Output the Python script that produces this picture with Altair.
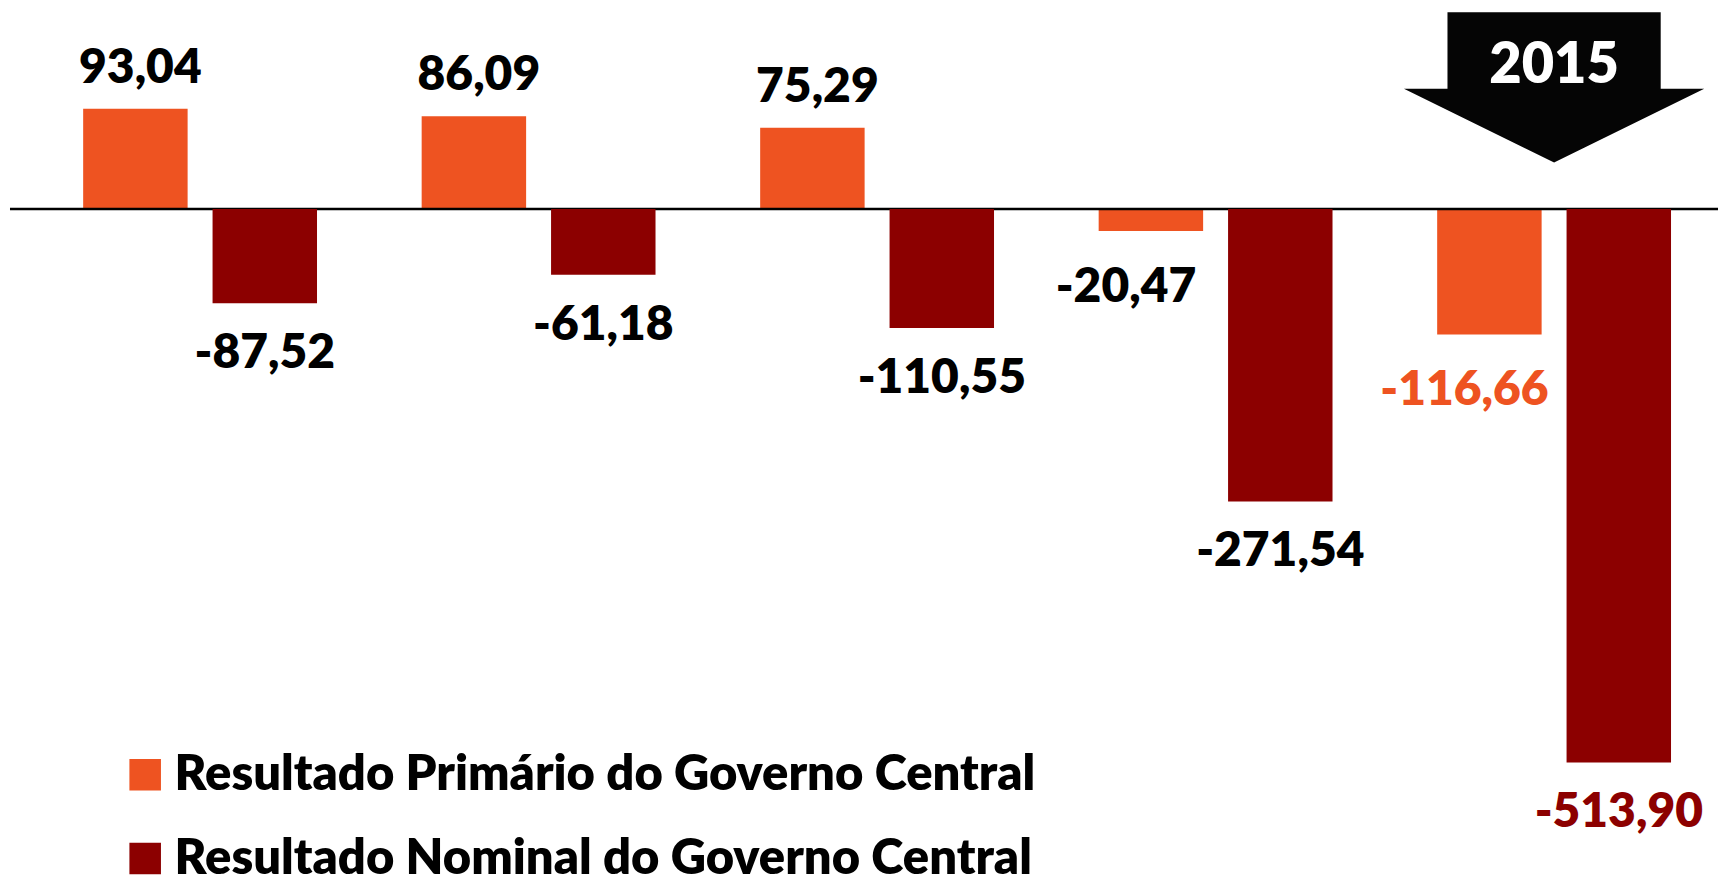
import altair as alt
import pandas as pd

# ---- data ----
years = ["2011", "2012", "2013", "2014", "2015"]
primario = [93.04, 86.09, 75.29, -20.47, -116.66]
nominal = [-87.52, -61.18, -110.55, -271.54, -513.90]
S1 = "Resultado Primário do Governo Central"
S2 = "Resultado Nominal do Governo Central"
highlight_year = "2015"

ORANGE = "#EE5321"
DARK = "#8C0000"
FONT = "Lato"

rows = []
for y, p, n in zip(years, primario, nominal):
    rows.append({"year": y, "series": S1, "value": p})
    rows.append({"year": y, "series": S2, "value": n})
df = pd.DataFrame(rows)
df["label"] = df["value"].map(lambda v: f"{v:.2f}".replace(".", ","))

W, H = 1712, 862
BAR_W = 104.7
OFF = 64.85
x_scale = alt.Scale(domain=years, paddingInner=0.309, paddingOuter=0.1774, align=0.609)
y_scale = alt.Scale(domain=[-612.7, 185.5], nice=False)
color_scale = alt.Scale(domain=[S1, S2], range=[ORANGE, DARK])

X = alt.X("year:N", scale=x_scale, axis=None)
Y = alt.Y("value:Q", scale=y_scale, axis=None)

legend = alt.Legend(
    orient="none", legendX=111, legendY=743,
    symbolType="square", symbolSize=1000,
    labelFont=FONT, labelFontSize=49, labelFontWeight=800, labelColor="black",
    labelLimit=2000, labelOffset=5, rowPadding=34,
)

LABEL_SIZE = 48
LABEL_WEIGHT = 800

layers = []
# (series, bar offset, highlight colour, dx shift for negative labels, dy for negative labels)
for s, off, col, neg_dx, neg_dy in [(S1, -OFF, ORANGE, -25, 71), (S2, OFF, DARK, 0, 65)]:
    sub = alt.Chart(df).transform_filter(alt.datum.series == s)
    layers.append(
        sub.mark_bar(width=BAR_W, xOffset=off).encode(
            x=X, y=Y, color=alt.Color("series:N", scale=color_scale, legend=legend, title="")
        )
    )
    lab_color = alt.condition(alt.datum.year == highlight_year, alt.value(col), alt.value("black"))
    layers.append(
        sub.transform_filter(alt.datum.value >= 0).mark_text(
            font=FONT, fontSize=LABEL_SIZE, fontWeight=LABEL_WEIGHT, baseline="alphabetic",
            dx=off + 5, dy=-25.7
        ).encode(x=X, y=Y, text="label:N", color=lab_color)
    )
    layers.append(
        sub.transform_filter(alt.datum.value < 0).mark_text(
            font=FONT, fontSize=LABEL_SIZE, fontWeight=LABEL_WEIGHT, baseline="alphabetic",
            dx=off + neg_dx, dy=neg_dy
        ).encode(x=X, y=Y, text="label:N", color=lab_color)
    )

zero_df = pd.DataFrame({"zero": [0]})
zero_rule = alt.Chart(zero_df).mark_rule(color="black", strokeWidth=2.5).encode(
    y=alt.Y("zero:Q", scale=y_scale, axis=None)
)
layers.insert(2, zero_rule)

ann = pd.DataFrame({"year": [highlight_year], "text": [highlight_year]})
ARROW = "M -0.71 -0.5 L 0.71 -0.5 L 0.71 0.01 L 1 0.01 L 0 0.5 L -1 0.01 L -0.71 0.01 Z"
arrow = alt.Chart(ann).mark_point(
    shape=ARROW, filled=True, size=90601, color="#050505", opacity=1
).encode(x=X, y=alt.value(78.5))
arrow_text = alt.Chart(ann).mark_text(
    font=FONT, fontSize=56, fontWeight=800, color="white", baseline="alphabetic"
).encode(x=X, y=alt.value(74), text="text:N")
layers += [arrow, arrow_text]

chart = alt.layer(*layers).properties(
    width=W, height=H, padding=0,
).configure_view(strokeWidth=0)

chart.save("out.html", embed_options={"renderer": "svg", "actions": False})
